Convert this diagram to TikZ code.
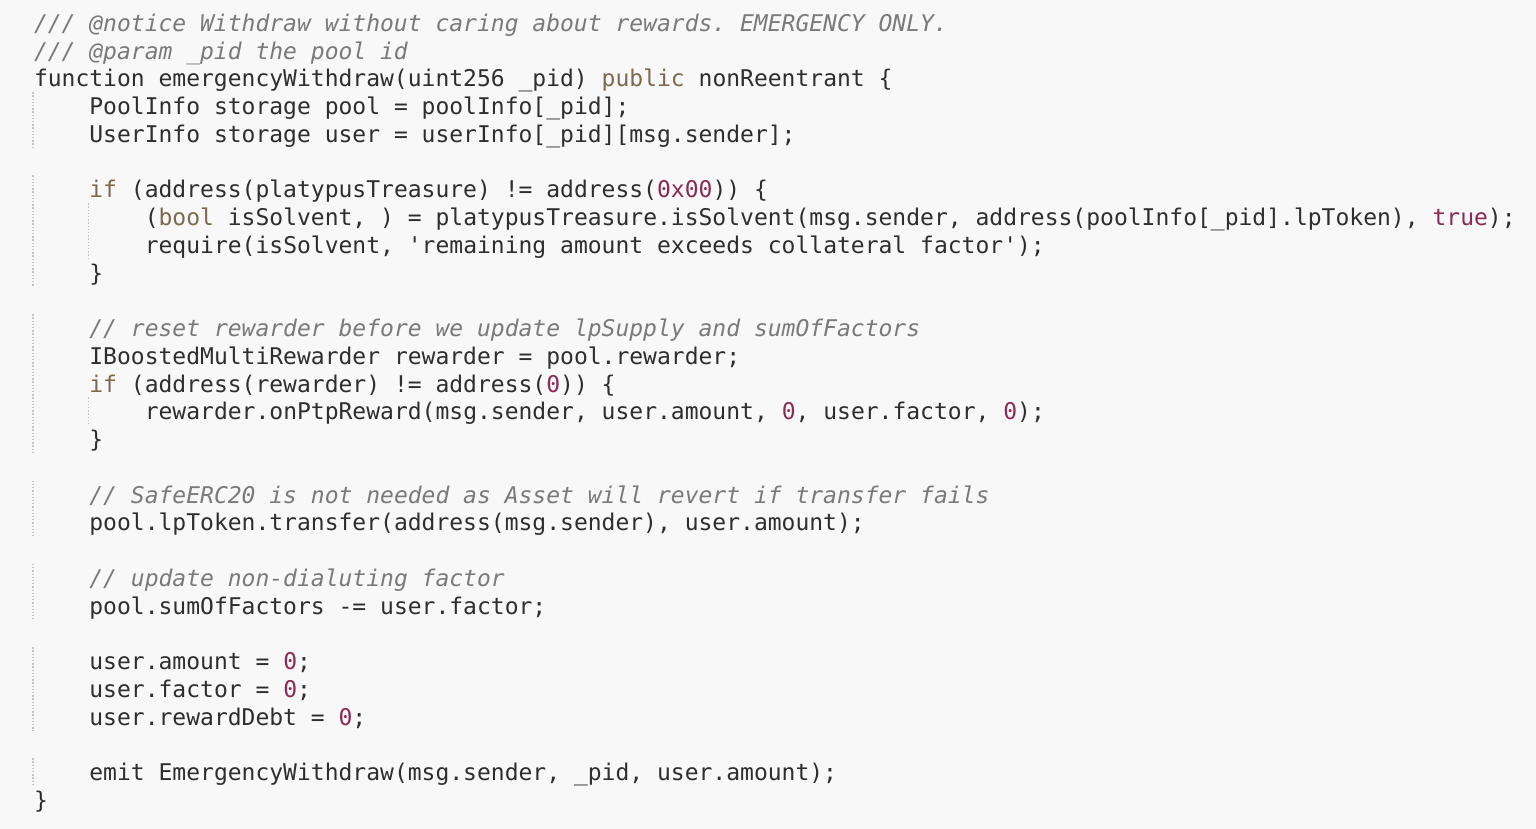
\documentclass[tikz,border=0pt]{standalone}
\usepackage{fontspec}
\setmonofont{DejaVu Sans Mono}
\definecolor{bgc}{HTML}{F8F8F8}
\definecolor{txc}{HTML}{2E2E2E}
\definecolor{cmc}{HTML}{7A7A7A}
\definecolor{kwc}{HTML}{7D6850}
\definecolor{nmc}{HTML}{8A2A55}
\definecolor{gdc}{HTML}{C4C4C4}
\newcommand\KW[1]{\textcolor{kwc}{#1}}
\newcommand\NUM[1]{\textcolor{nmc}{#1}}
\newcommand\Q{\textquotesingle}
\tikzset{
  codeline/.style={anchor=base west, inner sep=0pt, outer sep=0pt, text=txc,
    font=\ttfamily\fontsize{23}{27.75}\selectfont\frenchspacing},
  cmtline/.style={codeline, text=cmc, font=\ttfamily\itshape\fontsize{23}{27.75}\selectfont\frenchspacing},
  guide/.style={draw=gdc, line width=1.3pt, dash pattern=on 1.3pt off 1.9pt}
}
\begin{document}
\begin{tikzpicture}[x=1pt,y=1pt]
\fill[bgc] (0,0) rectangle (1536,829);
\useasboundingbox (0,0) rectangle (1536,829);
% baseline of line i: 829 - (31.5 + (i-1)*27.75); column width 13.846
\def\Xa{34}
\def\Xb{89.4}
\def\Xc{144.8}
% indentation guides
\foreach \a/\b/\x in {4/5/33, 7/10/33, 12/16/33, 18/19/33, 21/22/33, 24/26/33, 28/28/33, 8/9/88.5, 15/15/88.5}{
  \draw[guide] (\x, {829-(31.5+(\a-1)*27.75)+22.5}) -- (\x, {829-(31.5+(\b-1)*27.75)-5.25});
}
\node[cmtline] (l1) at (\Xa, 797.5) {/// @notice Withdraw without caring about rewards. EMERGENCY ONLY.};
\node[cmtline] (l2) at (\Xa, 769.75) {/// @param \_pid the pool id};
\node[codeline] (l3) at (\Xa, 742) {function emergencyWithdraw(uint256 \_pid) \KW{public} nonReentrant \{};
\node[codeline] (l4) at (\Xb, 714.25) {PoolInfo storage pool = poolInfo[\_pid];};
\node[codeline] (l5) at (\Xb, 686.5) {UserInfo storage user = userInfo[\_pid][msg.sender];};
\node[codeline] (l7) at (\Xb, 631) {\KW{if} (address(platypusTreasure) != address(\NUM{0x00})) \{};
\node[codeline] (l8) at (\Xc, 603.25) {(\KW{bool} isSolvent, ) = platypusTreasure.isSolvent(msg.sender, address(poolInfo[\_pid].lpToken), \NUM{true});};
\node[codeline] (l9) at (\Xc, 575.5) {require(isSolvent, \Q remaining amount exceeds collateral factor\Q);};
\node[codeline] (l10) at (\Xb, 547.75) {\}};
\node[cmtline] (l12) at (\Xb, 492.25) {// reset rewarder before we update lpSupply and sumOfFactors};
\node[codeline] (l13) at (\Xb, 464.5) {IBoostedMultiRewarder rewarder = pool.rewarder;};
\node[codeline] (l14) at (\Xb, 436.75) {\KW{if} (address(rewarder) != address(\NUM{0})) \{};
\node[codeline] (l15) at (\Xc, 409) {rewarder.onPtpReward(msg.sender, user.amount, \NUM{0}, user.factor, \NUM{0});};
\node[codeline] (l16) at (\Xb, 381.25) {\}};
\node[cmtline] (l18) at (\Xb, 325.75) {// SafeERC20 is not needed as Asset will revert if transfer fails};
\node[codeline] (l19) at (\Xb, 298) {pool.lpToken.transfer(address(msg.sender), user.amount);};
\node[cmtline] (l21) at (\Xb, 242.5) {// update non-dialuting factor};
\node[codeline] (l22) at (\Xb, 214.75) {pool.sumOfFactors -= user.factor;};
\node[codeline] (l24) at (\Xb, 159.25) {user.amount = \NUM{0};};
\node[codeline] (l25) at (\Xb, 131.5) {user.factor = \NUM{0};};
\node[codeline] (l26) at (\Xb, 103.75) {user.rewardDebt = \NUM{0};};
\node[codeline] (l28) at (\Xb, 48.25) {emit EmergencyWithdraw(msg.sender, \_pid, user.amount);};
\node[codeline] (l29) at (\Xa, 20.5) {\}};
\end{tikzpicture}
\end{document}
